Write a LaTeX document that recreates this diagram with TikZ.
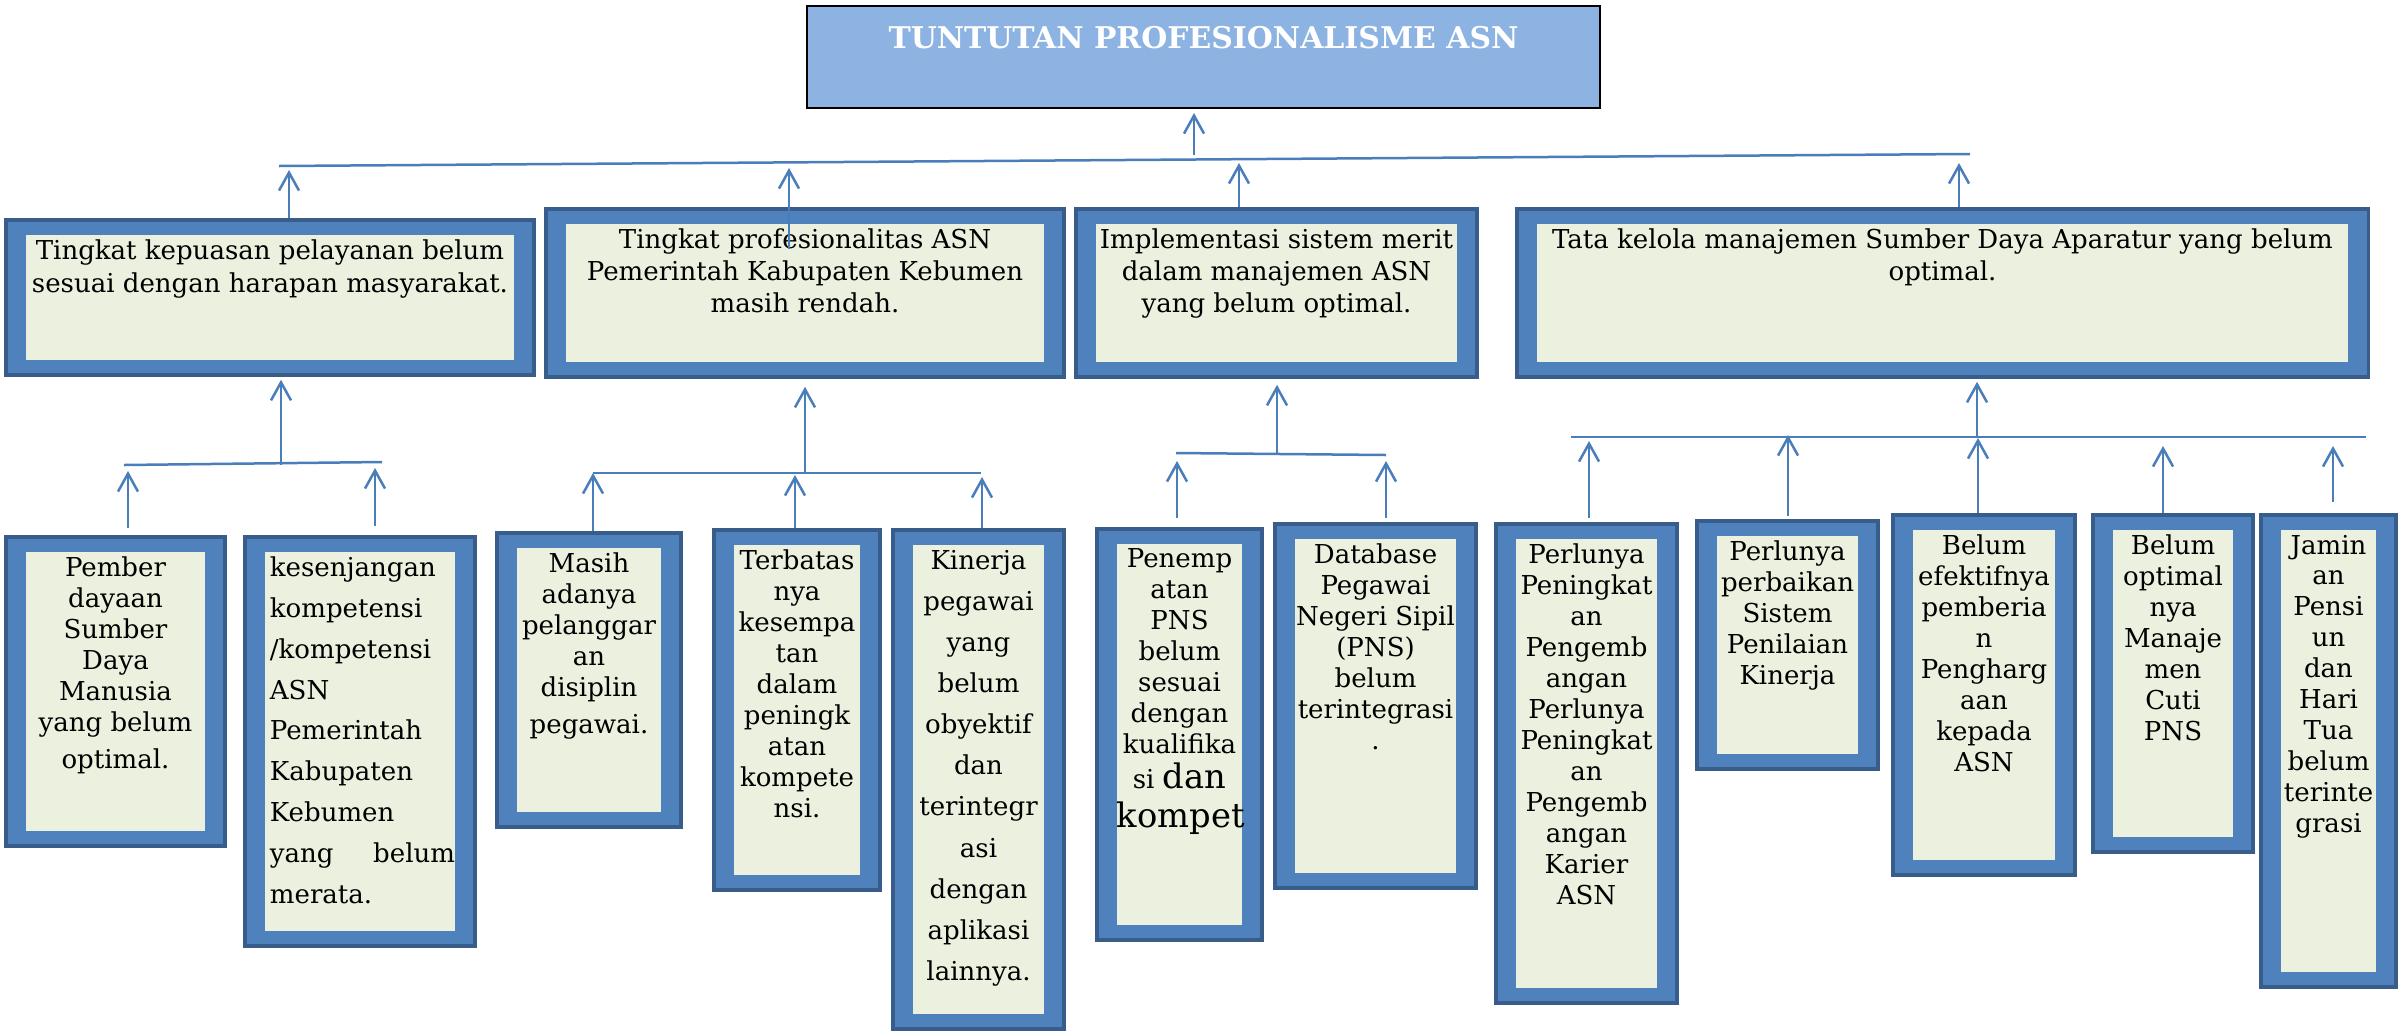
\documentclass[tikz,border=0pt]{standalone}
\usepackage{fontspec}
\setmainfont{DejaVu Serif}
\usetikzlibrary{arrows.meta}
\definecolor{goalfill}{HTML}{8DB3E2}
\definecolor{bandblue}{HTML}{4F81BD}
\definecolor{bandedge}{HTML}{385D8A}
\definecolor{notefill}{HTML}{EBF1DE}
\definecolor{linkblue}{HTML}{4A7EBB}
\newcommand{\boxtext}[3]{\parbox[t][\dimexpr #2-0.4cm\relax][t]{\dimexpr #1-0.4cm\relax}{\centering #3}}
\tikzstyle{goal} = [rectangle, draw=black, line width=0.02cm, fill=goalfill, inner sep=0.2cm, text=white, font=\bfseries\fontsize{8.5}{10}\selectfont]
\tikzstyle{cause} = [rectangle, draw=bandedge, line width=0.035cm, fill=bandblue, inner sep=0.2cm, font=\fontsize{7.4}{8.8}\selectfont, path picture={\fill[notefill] ([shift={(0.2cm,0.15cm)}]path picture bounding box.south west) rectangle ([shift={(-0.2cm,-0.15cm)}]path picture bounding box.north east);}]
\tikzstyle{link} = [draw=linkblue, line width=0.025cm]
\tikzstyle{arrow} = [link, -{Straight Barb[length=0.18cm, width=0.2cm]}]

\begin{document}
\begin{tikzpicture}[x=0.01cm, y=-0.01cm]
\useasboundingbox (0,0) rectangle (2398,1030);

\node (goal) [goal] at (1203.5,57) {\boxtext{7.93cm}{1.02cm}{TUNTUTAN PROFESIONALISME ASN}};

\node (a1) [cause, font=\fontsize{7.4}{9.2}\selectfont] at (270,297.5) {\boxtext{5.28cm}{1.55cm}{Tingkat kepuasan pelayanan belum\\ sesuai dengan harapan masyarakat.}};
\node (a2) [cause, font=\fontsize{7.4}{9.1}\selectfont] at (805,293) {\boxtext{5.18cm}{1.68cm}{Tingkat profesionalitas ASN\\ Pemerintah Kabupaten Kebumen\\ masih rendah.}};
\node (a3) [cause, font=\fontsize{7.4}{9.1}\selectfont] at (1276.5,293) {\boxtext{4.01cm}{1.68cm}{Implementasi sistem merit\\ dalam manajemen ASN\\ yang belum optimal.}};
\node (a4) [cause, font=\fontsize{7.4}{9.1}\selectfont] at (1942.5,293) {\boxtext{8.51cm}{1.68cm}{Tata kelola manajemen Sumber Daya Aparatur yang belum\\ optimal.}};

\node (b1) [cause] at (115.5,691.5) {\boxtext{2.19cm}{3.09cm}{Pember\\ dayaan\\ Sumber\\ Daya\\ Manusia\\ yang belum\\[0.06cm] optimal.}};
\node (b2) [cause, font=\fontsize{7.4}{11.6}\selectfont] at (360,741.5) {\boxtext{2.30cm}{4.09cm}{\raggedright\leftskip=0.05cm\relax kesenjangan\\ kompetensi\\ /kompetensi\\ ASN\\ Pemerintah\\ Kabupaten\\ Kebumen\\ yang\hfill belum\\ merata.}};

\node (c1) [cause] at (589,680) {\boxtext{1.84cm}{2.94cm}{Masih\\ adanya\\ pelanggar\\ an\\ disiplin\\[0.06cm] pegawai.}};
\node (c2) [cause] at (797,710) {\boxtext{1.66cm}{3.60cm}{Terbatas\\ nya\\ kesempa\\ tan\\ dalam\\ peningk\\ atan\\ kompete\\ nsi.}};
\node (c3) [cause, font=\fontsize{7.4}{11.7}\selectfont] at (978.5,779.5) {\boxtext{1.71cm}{4.99cm}{Kinerja\\ pegawai\\ yang\\ belum\\ obyektif\\ dan\\ terintegr\\ asi\\ dengan\\ aplikasi\\ lainnya.}};

\node (d1) [cause] at (1179.5,734.5) {\boxtext{1.65cm}{4.11cm}{Penemp\\ atan\\ PNS\\ belum\\ sesuai\\ dengan\\ kualifika\\[0.04cm] si {\fontsize{9.6}{11}\selectfont dan}\\[0.08cm] {\fontsize{9.6}{11}\selectfont kompet}}};
\node (d2) [cause] at (1375.5,706) {\boxtext{2.01cm}{3.64cm}{Database\\ Pegawai\\ Negeri Sipil\\ (PNS)\\ belum\\ terintegrasi\\ .}};

\node (e1) [cause] at (1586.5,763.5) {\boxtext{1.81cm}{4.79cm}{Perlunya\\ Peningkat\\ an\\ Pengemb\\ angan\\ Perlunya\\ Peningkat\\ an\\ Pengemb\\ angan\\ Karier\\ ASN}};
\node (e2) [cause] at (1787.5,645) {\boxtext{1.81cm}{2.48cm}{Perlunya\\ perbaikan\\ Sistem\\ Penilaian\\ Kinerja}};
\node (e3) [cause] at (1984,695) {\boxtext{1.82cm}{3.60cm}{Belum\\ efektifnya\\ pemberia\\ n\\ Pengharg\\ aan\\ kepada\\ ASN}};
\node (e4) [cause] at (2173,683.5) {\boxtext{1.60cm}{3.37cm}{Belum\\ optimal\\ nya\\ Manaje\\ men\\ Cuti\\ PNS}};
\node (e5) [cause] at (2328.5,751) {\boxtext{1.35cm}{4.72cm}{Jamin\\ an\\ Pensi\\ un\\ dan\\ Hari\\ Tua\\ belum\\ terinte\\ grasi}};

\coordinate (barL) at (279,166);
\coordinate (barR) at (1970,154);
\coordinate (jt) at (1194,155);
\coordinate (u1) at (289,170);
\coordinate (u2) at (789,168);
\coordinate (u3) at (1239,163);
\coordinate (u4) at (1959,163);
\draw [link] (barL) -- (barR);
\draw [arrow, shorten >=0.04cm] (jt) -- (goal.south -| jt);
\draw [arrow] (a1.north -| u1) -- (u1);
\draw [arrow] (a2.text -| u2) -- (u2);
\draw [arrow] (a3.north -| u3) -- (u3);
\draw [arrow] (a4.north -| u4) -- (u4);

\coordinate (ja) at (281,465);
\coordinate (jaL) at (124,465);
\coordinate (jaR) at (382,462);
\coordinate (v1) at (128,471);
\coordinate (v2) at (375,468);
\draw [link] (jaL) -- (jaR);
\draw [arrow, shorten >=0.03cm] (ja) -- (a1.south -| ja);
\draw [arrow, shorten <=0.07cm] (b1.north -| v1) -- (v1);
\draw [arrow, shorten <=0.09cm] (b2.north -| v2) -- (v2);

\coordinate (jb) at (805,473);
\coordinate (jbL) at (593,473);
\coordinate (jbR) at (981,473);
\coordinate (v3) at (593,473);
\coordinate (v4) at (795,475);
\coordinate (v5) at (982,477);
\draw [link] (jbL) -- (jbR);
\draw [arrow, shorten >=0.08cm] (jb) -- (a2.south -| jb);
\draw [arrow] (c1.north -| v3) -- (v3);
\draw [arrow] (c2.north -| v4) -- (v4);
\draw [arrow] (c3.north -| v5) -- (v5);

\coordinate (jc) at (1277,454);
\coordinate (jcL) at (1176,453);
\coordinate (jcR) at (1386,455);
\coordinate (v6) at (1177,461);
\coordinate (v7) at (1386,461);
\draw [link] (jcL) -- (jcR);
\draw [arrow, shorten >=0.06cm] (jc) -- (a3.south -| jc);
\draw [arrow, shorten <=0.09cm] (d1.north -| v6) -- (v6);
\draw [arrow, shorten <=0.04cm] (d2.north -| v7) -- (v7);

\coordinate (jd) at (1977,437);
\coordinate (jdL) at (1571,437);
\coordinate (jdR) at (2366,437);
\coordinate (v8) at (1589,441);
\coordinate (v9) at (1788,435);
\coordinate (v10) at (1978,438);
\coordinate (v11) at (2163,446);
\coordinate (v12) at (2333,446);
\draw [link] (jdL) -- (jdR);
\draw [arrow, shorten >=0.03cm] (jd) -- (a4.south -| jd);
\draw [arrow, shorten <=0.04cm] (e1.north -| v8) -- (v8);
\draw [arrow, shorten <=0.03cm] (e2.north -| v9) -- (v9);
\draw [arrow] (e3.north -| v10) -- (v10);
\draw [arrow] (e4.north -| v11) -- (v11);
\draw [arrow, shorten <=0.11cm] (e5.north -| v12) -- (v12);

\end{tikzpicture}
\end{document}
